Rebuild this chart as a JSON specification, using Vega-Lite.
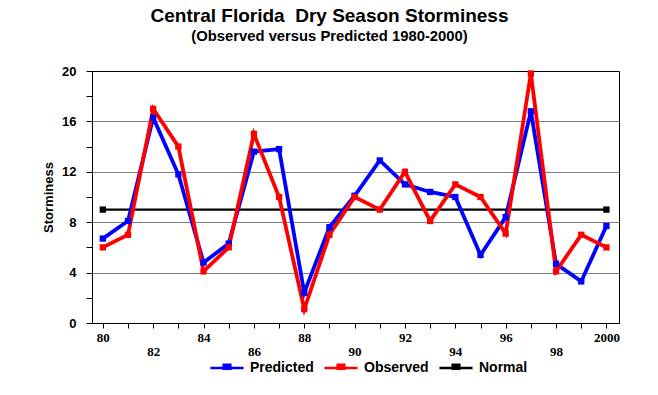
{
  "$schema": "https://vega.github.io/schema/vega-lite/v6.json",
  "width": 527,
  "height": 252,
  "autosize": {"type": "none"},
  "padding": {"left": 92, "top": 71, "right": 39, "bottom": 72},
  "background": "white",
  "title": {
    "text": "Central Florida\u00a0\u00a0Dry Season Storminess",
    "subtitle": "(Observed versus Predicted 1980-2000)",
    "anchor": "middle",
    "dx": -26,
    "font": "Liberation Sans",
    "fontSize": 19,
    "fontWeight": "bold",
    "color": "black",
    "subtitleFont": "Liberation Sans",
    "subtitleFontSize": 14.8,
    "subtitleFontWeight": "bold",
    "subtitleColor": "black",
    "subtitlePadding": 3,
    "offset": 21
  },
  "config": {"view": {"stroke": "black", "strokeWidth": 1}},
  "data": {
    "values": [
      {"year": 1980, "series": "Normal", "value": 9},
      {"year": 2000, "series": "Normal", "value": 9},
      {"year": 1980, "series": "Predicted", "value": 6.7},
      {"year": 1981, "series": "Predicted", "value": 8.1},
      {"year": 1982, "series": "Predicted", "value": 16.3},
      {"year": 1983, "series": "Predicted", "value": 11.8},
      {"year": 1984, "series": "Predicted", "value": 4.8},
      {"year": 1985, "series": "Predicted", "value": 6.3},
      {"year": 1986, "series": "Predicted", "value": 13.6},
      {"year": 1987, "series": "Predicted", "value": 13.8},
      {"year": 1988, "series": "Predicted", "value": 2.4},
      {"year": 1989, "series": "Predicted", "value": 7.6},
      {"year": 1990, "series": "Predicted", "value": 10.1},
      {"year": 1991, "series": "Predicted", "value": 12.9},
      {"year": 1992, "series": "Predicted", "value": 11},
      {"year": 1993, "series": "Predicted", "value": 10.4},
      {"year": 1994, "series": "Predicted", "value": 10},
      {"year": 1995, "series": "Predicted", "value": 5.4},
      {"year": 1996, "series": "Predicted", "value": 8.4},
      {"year": 1997, "series": "Predicted", "value": 16.8},
      {"year": 1998, "series": "Predicted", "value": 4.7},
      {"year": 1999, "series": "Predicted", "value": 3.3},
      {"year": 2000, "series": "Predicted", "value": 7.7},
      {"year": 1980, "series": "Observed", "value": 6},
      {"year": 1981, "series": "Observed", "value": 7},
      {"year": 1982, "series": "Observed", "value": 17},
      {"year": 1983, "series": "Observed", "value": 14},
      {"year": 1984, "series": "Observed", "value": 4.1},
      {"year": 1985, "series": "Observed", "value": 6},
      {"year": 1986, "series": "Observed", "value": 15},
      {"year": 1987, "series": "Observed", "value": 10},
      {"year": 1988, "series": "Observed", "value": 1.1},
      {"year": 1989, "series": "Observed", "value": 7},
      {"year": 1990, "series": "Observed", "value": 10},
      {"year": 1991, "series": "Observed", "value": 9},
      {"year": 1992, "series": "Observed", "value": 12},
      {"year": 1993, "series": "Observed", "value": 8.1},
      {"year": 1994, "series": "Observed", "value": 11},
      {"year": 1995, "series": "Observed", "value": 10},
      {"year": 1996, "series": "Observed", "value": 7.1},
      {"year": 1997, "series": "Observed", "value": 19.8},
      {"year": 1998, "series": "Observed", "value": 4.1},
      {"year": 1999, "series": "Observed", "value": 7},
      {"year": 2000, "series": "Observed", "value": 6}
    ]
  },
  "encoding": {
    "x": {
      "field": "year",
      "type": "quantitative",
      "scale": {"domain": [1979.57, 2000.5], "nice": false, "zero": false},
      "axis": {
        "values": [1980,1981,1982,1983,1984,1985,1986,1987,1988,1989,1990,1991,1992,1993,1994,1995,1996,1997,1998,1999,2000],
        "labelExpr": "datum.value % 2 == 1 ? '' : (datum.value == 2000 ? '2000' : slice(toString(datum.value), 2))",
        "title": null,
        "grid": false,
        "domainColor": "black",
        "tickColor": "black",
        "tickSize": 5,
        "labelPadding": {"condition": {"test": "datum.value % 4 == 2", "value": 17}, "value": 3},
        "labelFont": "Liberation Serif",
        "labelFontSize": 13,
        "labelFontWeight": "bold",
        "labelColor": "black",
        "labelOverlap": false,
        "labelBound": false,
        "labelFlush": false
      }
    },
    "y": {
      "field": "value",
      "type": "quantitative",
      "scale": {"domain": [0, 20], "nice": false},
      "axis": {
        "values": [0,2,4,6,8,10,12,14,16,18,20],
        "labelExpr": "datum.value % 4 == 0 ? datum.label : ''",
        "grid": true,
        "gridColor": "#808080",
        "gridOpacity": {"condition": {"test": "datum.value % 4 != 0 || datum.value == 0 || datum.value == 20", "value": 0}, "value": 1},
        "domainColor": "black",
        "tickColor": "black",
        "tickSize": 6,
        "labelPadding": 10,
        "labelFont": "Liberation Sans",
        "labelFontSize": 13,
        "labelFontWeight": "bold",
        "labelColor": "black",
        "labelOverlap": false,
        "labelFlush": false,
        "title": "Storminess",
        "titleFont": "Liberation Sans",
        "titleFontSize": 13,
        "titleFontWeight": "bold",
        "titleColor": "black",
        "titlePadding": 6
      }
    },
    "color": {
      "field": "series",
      "type": "nominal",
      "scale": {"domain": ["Predicted", "Observed", "Normal"], "range": ["#0000FF", "#FF0000", "#000000"]},
      "legend": {
        "orient": "none",
        "direction": "horizontal",
        "legendX": 117,
        "legendY": 279,
        "title": null,
        "symbolType": "M-1,0L1,0M-0.2,-0.2L0.2,-0.2L0.2,0.05L-0.2,0.05Z",
        "symbolSize": 1100,
        "symbolStrokeWidth": 2.5,
        "labelFont": "Liberation Sans",
        "labelFontSize": 14,
        "labelFontWeight": "bold",
        "labelColor": "black",
        "labelOffset": 5,
        "columnPadding": 5
      }
    }
  },
  "layer": [
    {
      "mark": {"type": "line"},
      "encoding": {
        "strokeWidth": {
          "condition": {"test": "datum.series == 'Normal'", "value": 2.2},
          "value": 3.8
        }
      }
    },
    {
      "mark": {"type": "point", "shape": "square", "filled": true, "size": 40, "opacity": 1}
    }
  ]
}
